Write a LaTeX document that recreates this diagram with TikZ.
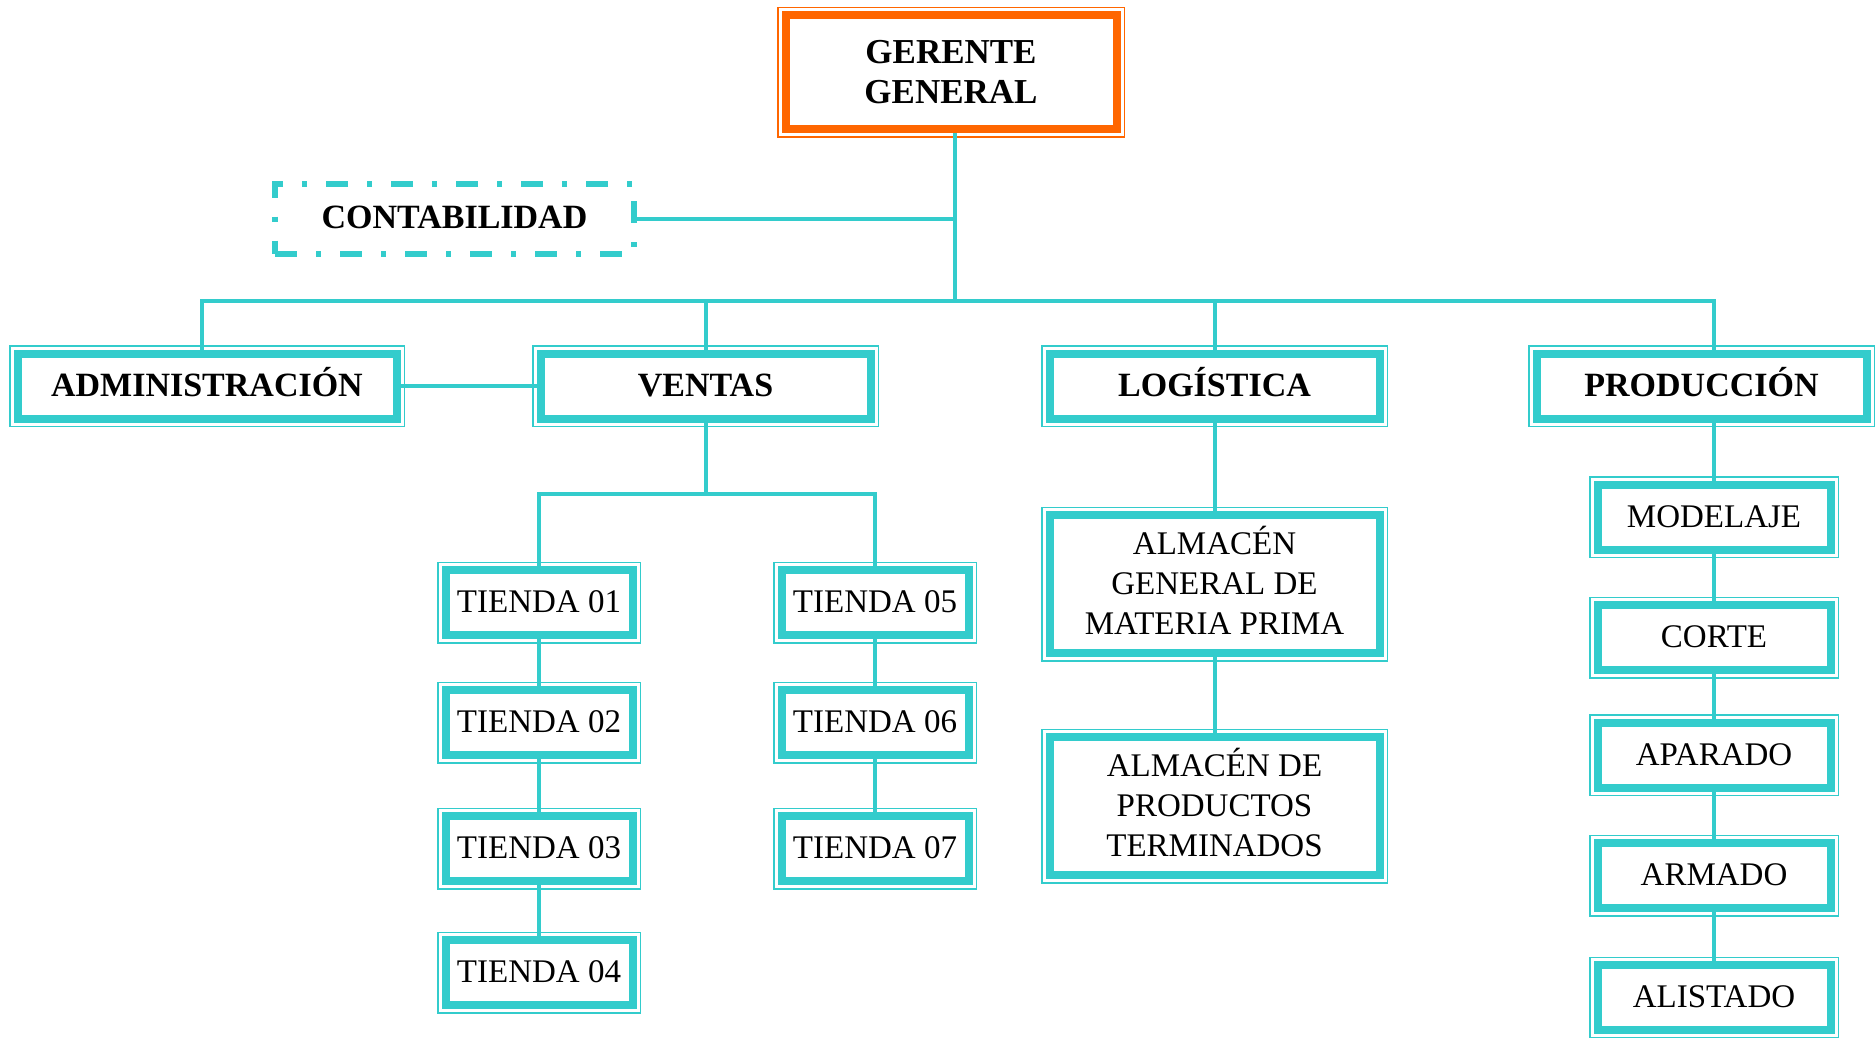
\documentclass[tikz,border=0pt]{standalone}
\usepackage{fontspec}
\setmainfont{Liberation Serif}
\usetikzlibrary{calc}
\definecolor{turq}{RGB}{51,204,204}
\definecolor{naranja}{RGB}{255,102,0}

\tikzset{
  % thin outer rule, white gap, thick inner rule
  frame/.style={rectangle, draw=#1, line width=8pt, fill=white, inner sep=0pt,
    text=black,
    preaction={draw=#1, line width=17pt},
    preaction={draw=white, line width=14pt}},
  frame/.default=turq,
  oneline/.style={text height=22.5pt, text depth=2pt},
  txt/.style={font=\fontsize{33}{40}\selectfont},
  btxt/.style={font=\fontsize{34}{40}\selectfont\bfseries},
  area/.style={frame, btxt, oneline, minimum width=330pt, minimum height=65pt},
  tienda/.style={frame, txt, oneline, minimum width=187pt, minimum height=65pt},
  almacen/.style={frame, txt, align=center, text height=103pt, text depth=2pt,
    minimum width=330pt, minimum height=138pt},
  proceso/.style={frame, txt, oneline, minimum width=233pt, minimum height=65pt},
  staff/.style={rectangle, draw=turq, line width=6pt, fill=white, inner sep=0pt,
    dash pattern=on 22pt off 19pt on 5pt off 19pt, btxt, oneline,
    minimum width=359pt, minimum height=70pt},
  link/.style={draw=turq, line width=4pt}
}

\begin{document}
\begin{tikzpicture}[x=1pt,y=-1pt]
\useasboundingbox (0,0) rectangle (1876,1038);

% top level
\node[frame=naranja, font=\fontsize{35}{40}\selectfont\bfseries, align=center,
      minimum width=331pt, minimum height=114pt]
      (ger) at (951,72.5) {GERENTE\\GENERAL};
\node[staff] (cont) at (454.5,218.5) {CONTABILIDAD};

% areas
\node[area, minimum width=379pt] (adm) at (207,386) {ADMINISTRACIÓN};
\node[area] (ven) at (705.5,386) {VENTAS};
\node[area] (log) at (1214.5,386) {LOGÍSTICA};
\node[area] (pro) at (1701.5,386) {PRODUCCIÓN};

% ventas
\node[tienda] (t1) at (539,602.5) {TIENDA 01};
\node[tienda] (t2) at (539,722.5) {TIENDA 02};
\node[tienda] (t3) at (539,848.5) {TIENDA 03};
\node[tienda] (t4) at (539,972.5) {TIENDA 04};
\node[tienda] (t5) at (875,602.5) {TIENDA 05};
\node[tienda] (t6) at (875,722.5) {TIENDA 06};
\node[tienda] (t7) at (875,848.5) {TIENDA 07};

% logistica
\node[almacen] (ag) at (1214.5,584) {ALMACÉN\\GENERAL DE\\MATERIA PRIMA};
\node[almacen] (ap) at (1214.5,806) {ALMACÉN DE\\PRODUCTOS\\TERMINADOS};

% produccion
\node[proceso] (mod) at (1714,517) {MODELAJE};
\node[proceso] (cor) at (1714,637.5) {CORTE};
\node[proceso] (apa) at (1714,755) {APARADO};
\node[proceso] (arm) at (1714,875.5) {ARMADO};
\node[proceso] (ali) at (1714,997.5) {ALISTADO};

% branch points
\coordinate (stem) at (955,301);
\coordinate (ba) at (202,301);
\coordinate (vb) at (706,494);

% connectors
\draw[link] (ger.south -| stem) -- (stem);
\draw[link] (cont.east) -- (cont.east -| stem);
\draw[link] (adm.north -| ba) -- (ba) -- (mod.north |- ba) -- (mod.north |- pro.north);
\draw[link] (ven.north) -- (ven.north |- ba);
\draw[link] (log.north) -- (log.north |- ba);
\draw[link] (adm.east) -- (ven.west);

\draw[link] (ven.south) -- (ven.south |- vb);
\draw[link] (t1.north) -- (t1.north |- vb) -- (t5.north |- vb) -- (t5.north);
\draw[link] (t1.south) -- (t2.north);
\draw[link] (t2.south) -- (t3.north);
\draw[link] (t3.south) -- (t4.north);
\draw[link] (t5.south) -- (t6.north);
\draw[link] (t6.south) -- (t7.north);

\draw[link] (log.south) -- (ag.north);
\draw[link] (ag.south) -- (ap.north);

\draw[link] (mod.north |- pro.south) -- (mod.north);
\draw[link] (mod.south) -- (cor.north);
\draw[link] (cor.south) -- (apa.north);
\draw[link] (apa.south) -- (arm.north);
\draw[link] (arm.south) -- (ali.north);
\end{tikzpicture}
\end{document}
